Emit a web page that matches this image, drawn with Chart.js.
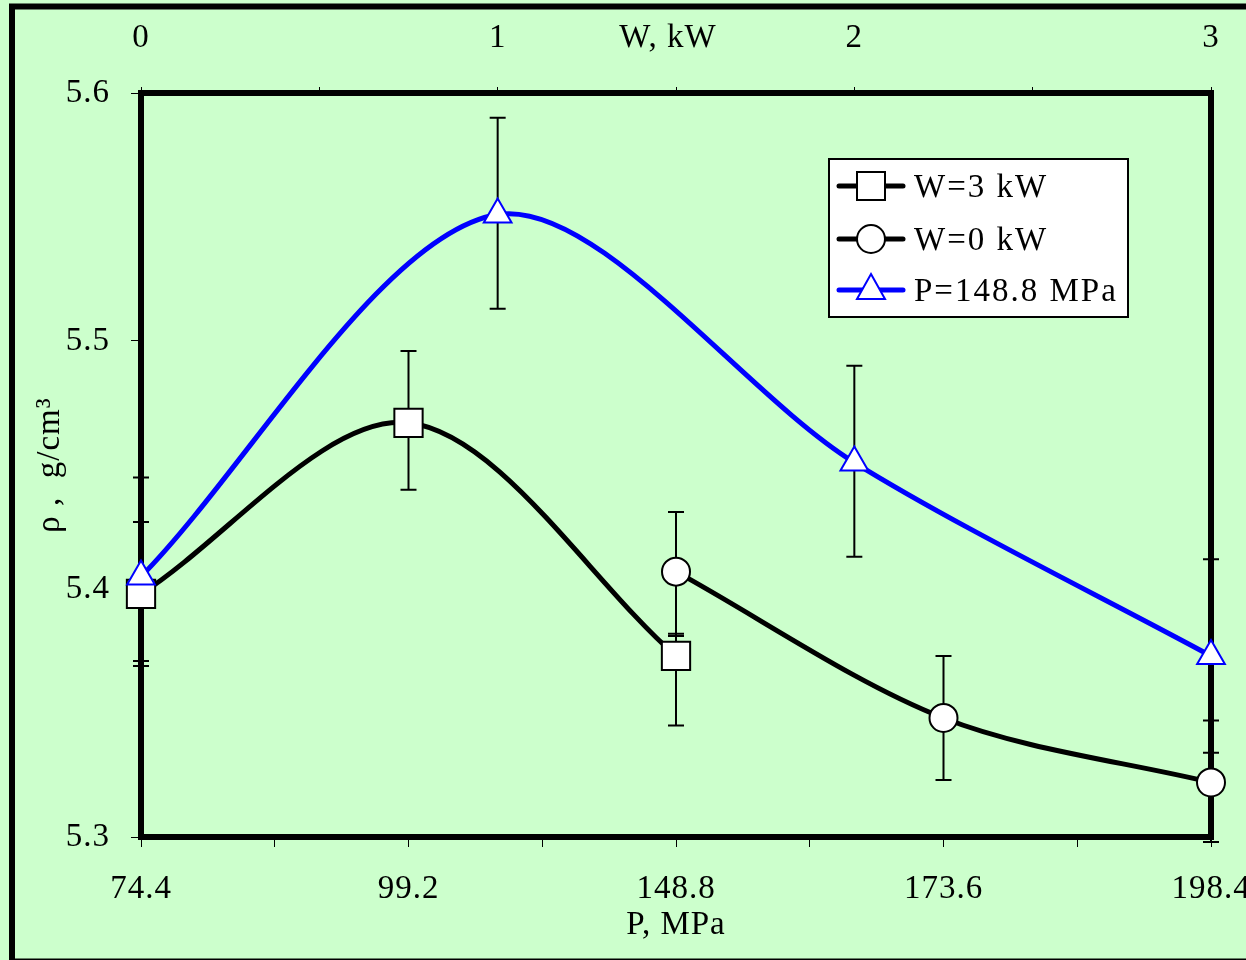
<!DOCTYPE html>
<html>
<head>
<meta charset="utf-8">
<script src="https://cdn.jsdelivr.net/npm/chart.js@4.4.1/dist/chart.umd.min.js"></script>
<style>
html, body { margin: 0; padding: 0; overflow: hidden; background: #ccffcc; }
#wrap { width: 1290px; height: 960px; }
</style>
</head>
<body>
<div id="wrap"><canvas id="myChart" width="1290" height="960"></canvas></div>
<script>
// P axis (bottom) categories, drawn at equal steps 0..4
const pLabels = ['74.4', '99.2', '148.8', '173.6', '198.4'];
// W axis (top) ticks
const wLabels = ['0', '1', '2', '3'];

// W=3 kW, at P index 0..2
const w3Pos = [0, 1, 2];
const w3Rho = [5.398, 5.467, 5.373];
const w3Lo  = [5.371, 5.440, 5.345];
const w3Hi  = [5.427, 5.496, 5.382];

// W=0 kW, at P index 2..4
const w0Pos = [2, 3, 4];
const w0Rho = [5.407, 5.348, 5.322];
const w0Lo  = [5.381, 5.323, 5.298];
const w0Hi  = [5.431, 5.373, 5.334];

// P=148.8 MPa, over W
const pwPos = [0, 1, 2, 3];
const pwRho = [5.405, 5.551, 5.451, 5.373];
const pwLo  = [5.369, 5.513, 5.413, 5.347];
const pwHi  = [5.445, 5.590, 5.490, 5.412];

const FONT = '"Liberation Serif", "Times New Roman", serif';

function pts(xs, ys) {
    return xs.map((x, i) => ({ x: x, y: ys[i] }));
}

// background, outer frame, plot frame, error bars
const decor = {
    id: 'decor',
    beforeDraw(chart) {
        const ctx = chart.ctx;
        ctx.letterSpacing = '1px'; // old Times output is a bit wider
        ctx.save();
        ctx.fillStyle = '#ccffcc';
        ctx.fillRect(0, 0, chart.width, chart.height);
        ctx.strokeStyle = '#000';
        ctx.lineWidth = 6;
        ctx.strokeRect(12, 6.5, 1272, 955);
        ctx.restore();
    },
    beforeDatasetsDraw(chart) {
        const ctx = chart.ctx;
        const a = chart.chartArea;
        const y = chart.scales.y;
        ctx.save();
        ctx.strokeStyle = '#000';
        ctx.lineWidth = 6;
        ctx.strokeRect(a.left, a.top, a.right - a.left, a.bottom - a.top);

        // error bars
        ctx.lineWidth = 2;
        chart.data.datasets.forEach(ds => {
            const x = chart.scales[ds.xAxisID];
            ds.data.forEach((p, k) => {
                const px = x.getPixelForValue(p.x);
                const y1 = y.getPixelForValue(ds.errLo[k]);
                const y2 = y.getPixelForValue(ds.errHi[k]);
                ctx.beginPath();
                ctx.moveTo(px, y1); ctx.lineTo(px, y2);
                ctx.moveTo(px - 8, y1); ctx.lineTo(px + 8, y1);
                ctx.moveTo(px - 8, y2); ctx.lineTo(px + 8, y2);
                ctx.stroke();
            });
        });

        // top axis title, sits in the tick label row
        ctx.fillStyle = '#000';
        ctx.font = '33px ' + FONT;
        ctx.textAlign = 'center';
        ctx.textBaseline = 'middle';
        ctx.fillText('W, kW', 668, 38);
        ctx.restore();
    }
};

function marker(ctx, style, x, y, color) {
    ctx.beginPath();
    if (style === 'rect') {
        ctx.rect(x - 14, y - 14, 28, 28);
    } else if (style === 'circle') {
        ctx.arc(x, y, 14, 0, Math.PI * 2);
    } else {
        ctx.moveTo(x, y - 16);
        ctx.lineTo(x + 14, y + 9);
        ctx.lineTo(x - 14, y + 9);
        ctx.closePath();
    }
    ctx.fillStyle = '#fff';
    ctx.fill();
    ctx.lineWidth = 2;
    ctx.strokeStyle = color;
    ctx.stroke();
}

// legend box inside the plot
const boxLegend = {
    id: 'boxLegend',
    afterDatasetsDraw(chart) {
        const ctx = chart.ctx;
        ctx.save();
        ctx.fillStyle = '#fff';
        ctx.fillRect(829, 159, 299, 158);
        ctx.strokeStyle = '#000';
        ctx.lineWidth = 2;
        ctx.strokeRect(829, 159, 299, 158);
        const rows = [186, 239, 290];
        [0, 1, 2].forEach((di, r) => {
            const ds = chart.data.datasets[di];
            const yy = rows[r];
            ctx.beginPath();
            ctx.lineCap = 'round';
            ctx.lineWidth = 5;
            ctx.strokeStyle = ds.borderColor;
            ctx.moveTo(839, yy);
            ctx.lineTo(903, yy);
            ctx.stroke();
            marker(ctx, ds.pointStyle, 871, yy, ds.pointBorderColor);
            ctx.fillStyle = '#000';
            ctx.font = '33px ' + FONT;
            ctx.letterSpacing = '2px';
            ctx.textAlign = 'left';
            ctx.textBaseline = 'middle';
            ctx.fillText(ds.label, 914, yy + 2);
        });
        ctx.restore();
    }
};

const ctx = document.getElementById('myChart');

new Chart(ctx, {
    type: 'line',
    data: {
        datasets: [
            {
                label: 'W=3 kW',
                data: pts(w3Pos, w3Rho),
                errLo: w3Lo, errHi: w3Hi,
                xAxisID: 'x', yAxisID: 'y',
                borderColor: '#000',
                borderWidth: 5,
                tension: 0.32,
                pointStyle: 'rect',
                pointRadius: 20,
                pointBackgroundColor: '#fff',
                pointBorderColor: '#000',
                pointBorderWidth: 2,
                clip: false,
                order: 3
            },
            {
                label: 'W=0 kW',
                data: pts(w0Pos, w0Rho),
                errLo: w0Lo, errHi: w0Hi,
                xAxisID: 'x', yAxisID: 'y',
                borderColor: '#000',
                borderWidth: 5,
                tension: 0.32,
                pointStyle: 'circle',
                pointRadius: 14,
                pointBackgroundColor: '#fff',
                pointBorderColor: '#000',
                pointBorderWidth: 2,
                clip: false,
                order: 2
            },
            {
                label: 'P=148.8 MPa',
                data: pts(pwPos, pwRho),
                errLo: pwLo, errHi: pwHi,
                xAxisID: 'x2', yAxisID: 'y',
                borderColor: '#0000ff',
                borderWidth: 5,
                tension: 0.3,
                pointStyle: 'triangle',
                pointRadius: 16,
                pointBackgroundColor: '#fff',
                pointBorderColor: '#0000ff',
                pointBorderWidth: 2,
                clip: false,
                order: 1
            }
        ]
    },
    options: {
        responsive: false,
        animation: false,
        layout: {
            padding: { left: 0, right: 79, top: 0, bottom: 0 }
        },
        plugins: {
            legend: { display: false },
            tooltip: { enabled: false }
        },
        scales: {
            x: {
                type: 'linear',
                position: 'bottom',
                min: 0,
                max: 4,
                afterFit: s => { s.height = 123; },
                grid: {
                    drawOnChartArea: false,
                    drawTicks: true,
                    tickLength: 10,
                    color: '#000',
                    lineWidth: 1
                },
                border: { display: false },
                ticks: {
                    stepSize: 0.5,
                    autoSkip: false,
                    maxRotation: 0,
                    minRotation: 0,
                    padding: 23,
                    color: '#000',
                    font: { family: FONT, size: 33 },
                    callback: v => Number.isInteger(v) ? pLabels[v] : ''
                },
                title: {
                    display: true,
                    text: 'P, MPa',
                    color: '#000',
                    font: { family: FONT, size: 33 },
                    padding: { top: 0, bottom: 15 }
                }
            },
            x2: {
                type: 'linear',
                position: 'top',
                min: 0,
                max: 3,
                afterFit: s => { s.height = 93; },
                grid: {
                    drawOnChartArea: false,
                    drawTicks: true,
                    tickLength: 6,
                    color: '#000',
                    lineWidth: 1
                },
                border: { display: false },
                ticks: {
                    stepSize: 0.5,
                    autoSkip: false,
                    maxRotation: 0,
                    minRotation: 0,
                    padding: 29,
                    color: '#000',
                    font: { family: FONT, size: 33 },
                    callback: v => Number.isInteger(v) ? wLabels[v] : ''
                }
            },
            y: {
                type: 'linear',
                position: 'left',
                min: 5.3,
                max: 5.6,
                afterFit: s => { s.width = 141; },
                grid: {
                    drawOnChartArea: false,
                    drawTicks: true,
                    tickLength: 10,
                    color: '#000',
                    lineWidth: 1
                },
                border: { display: false },
                ticks: {
                    stepSize: 0.1,
                    padding: 21,
                    color: '#000',
                    font: { family: FONT, size: 33 },
                    callback: v => v.toFixed(1)
                },
                title: {
                    display: true,
                    text: 'ρ ,  g/cm³',
                    color: '#000',
                    font: { family: FONT, size: 33 },
                    padding: { top: 31, bottom: 0 }
                }
            }
        }
    },
    plugins: [decor, boxLegend]
});
</script>
</body>
</html>
